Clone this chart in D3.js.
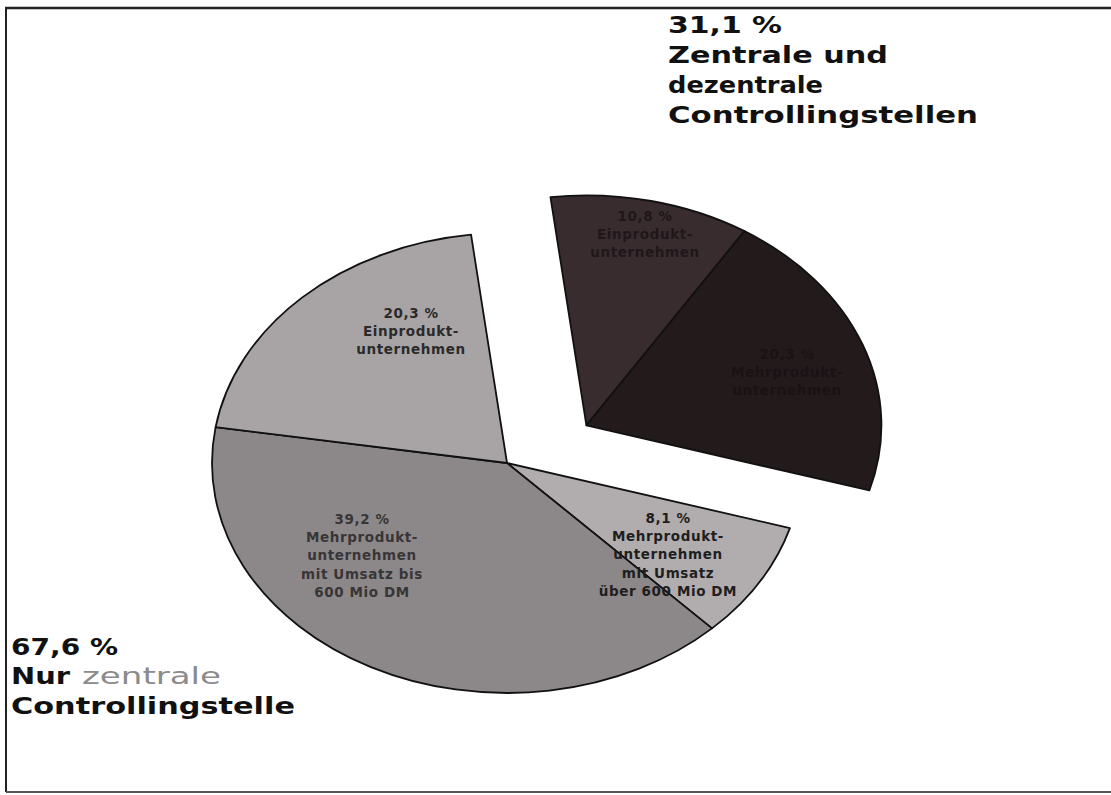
<!DOCTYPE html>
<html><head><meta charset="utf-8">
<script src="https://cdn.jsdelivr.net/npm/d3@7"></script>
<style>
html,body{margin:0;padding:0;background:#fff;}
svg{display:block;}
</style></head>
<body>
<svg id="chart" width="1111" height="795"></svg>
<script>
// ---- data ----
const categories = [
  "Einprodukt (dezentral)",
  "Mehrprodukt (dezentral)",
  "Mehrprodukt über 600 Mio DM",
  "Mehrprodukt bis 600 Mio DM",
  "Einprodukt (zentral)"
];
const values = [10.8, 20.3, 8.1, 39.2, 20.3];
const groupOf = ["dez", "dez", "zen", "zen", "zen"];
const sliceLabels = [
  ["10,8 %", "Einprodukt-", "unternehmen"],
  ["20,3 %", "Mehrprodukt-", "unternehmen"],
  ["8,1 %", "Mehrprodukt-", "unternehmen", "mit Umsatz", "über 600 Mio DM"],
  ["39,2 %", "Mehrprodukt-", "unternehmen", "mit Umsatz bis", "600 Mio DM"],
  ["20,3 %", "Einprodukt-", "unternehmen"]
];
const groupTotals = {dez: "31,1 %", zen: "67,6 %"};

// ---- layout / style ----
const W = 1111, H = 795;
const cx = 507, cy = 463, rx = 295, ry = 230, R = 100;
const explode = 0.315, explodeShiftDeg = 9;
const startDeg = -7;
const colors = ["#382c2f", "#231a1c", "#b1adaf", "#8c888a", "#a8a4a6"];
const labelColors = ["#1f1719", "#1a1214", "#1e1e1e", "#383536", "#2a2a2a"];
const labelPos = [[645, 221], [787, 359], [668, 523], [362, 524], [411, 318]];

const svg = d3.select("#chart");

// frame
svg.append("line").attr("x1", 5).attr("x2", 1111).attr("y1", 8).attr("y2", 8)
  .attr("stroke", "#222").attr("stroke-width", 2.5);
svg.append("line").attr("x1", 6).attr("x2", 6).attr("y1", 8).attr("y2", 792)
  .attr("stroke", "#222").attr("stroke-width", 2);
svg.append("line").attr("x1", 6).attr("x2", 1111).attr("y1", 792).attr("y2", 792)
  .attr("stroke", "#555").attr("stroke-width", 2);

const toRad = d => d * Math.PI / 180;
const pie = d3.pie().sort(null).value(d => d)
  .startAngle(toRad(startDeg)).endAngle(toRad(startDeg) + 2 * Math.PI);
const arcs = pie(values);
const arc = d3.arc().innerRadius(0).outerRadius(R);

// offset of exploded group
const dezArcs = arcs.filter((a, i) => groupOf[i] === "dez");
const dezMid = (dezArcs[0].startAngle + dezArcs[dezArcs.length - 1].endAngle) / 2 + toRad(explodeShiftDeg);
const off = [Math.sin(dezMid) * explode * R, -Math.cos(dezMid) * explode * R];

const pieG = svg.append("g")
  .attr("transform", `translate(${cx},${cy}) scale(${rx / R},${ry / R})`);

pieG.selectAll("path.slice").data(arcs).join("path")
  .attr("class", "slice")
  .attr("d", arc)
  .attr("transform", (d, i) => groupOf[i] === "dez" ? `translate(${off[0]},${off[1]})` : null)
  .attr("fill", (d, i) => colors[i])
  .attr("stroke", "#111")
  .attr("stroke-width", 1.8)
  .attr("stroke-linejoin", "round")
  .attr("vector-effect", "non-scaling-stroke");

// slice labels
const lblG = svg.append("g")
  .attr("font-family", "'DejaVu Sans', 'Liberation Sans', sans-serif")
  .attr("font-weight", "bold")
  .attr("font-size", 13.5)
  .attr("letter-spacing", 0.6)
  .attr("text-anchor", "middle");

sliceLabels.forEach((lines, i) => {
  const t = lblG.append("text")
    .attr("x", labelPos[i][0]).attr("y", labelPos[i][1])
    .attr("fill", labelColors[i]);
  lines.forEach((ln, j) => {
    t.append("tspan").attr("x", labelPos[i][0]).attr("dy", j === 0 ? 0 : 18.2).text(ln);
  });
});

// group labels
const outer = svg.append("g")
  .attr("font-family", "'DejaVu Sans', 'Liberation Sans', sans-serif")
  .attr("font-weight", "bold")
  .attr("font-size", 23)
  .attr("fill", "#111");

const topLines = [groupTotals.dez, "Zentrale und", "dezentrale", "Controllingstellen"];
const topWidths = [114, 220, 155, 310];
topLines.forEach((ln, j) => {
  outer.append("text").attr("x", 668).attr("y", 33 + j * 30)
    .attr("textLength", topWidths[j]).attr("lengthAdjust", "spacingAndGlyphs").text(ln);
});

outer.append("text").attr("x", 11).attr("y", 655)
  .attr("textLength", 107).attr("lengthAdjust", "spacingAndGlyphs").text(groupTotals.zen);
outer.append("text").attr("x", 11).attr("y", 684)
  .attr("textLength", 59).attr("lengthAdjust", "spacingAndGlyphs").text("Nur");
outer.append("text").attr("x", 82).attr("y", 684)
  .attr("fill", "#8c8a8b").attr("font-weight", "normal")
  .attr("textLength", 139).attr("lengthAdjust", "spacingAndGlyphs").text("zentrale");
outer.append("text").attr("x", 11).attr("y", 714)
  .attr("textLength", 284).attr("lengthAdjust", "spacingAndGlyphs").text("Controllingstelle");
</script>
</body></html>
